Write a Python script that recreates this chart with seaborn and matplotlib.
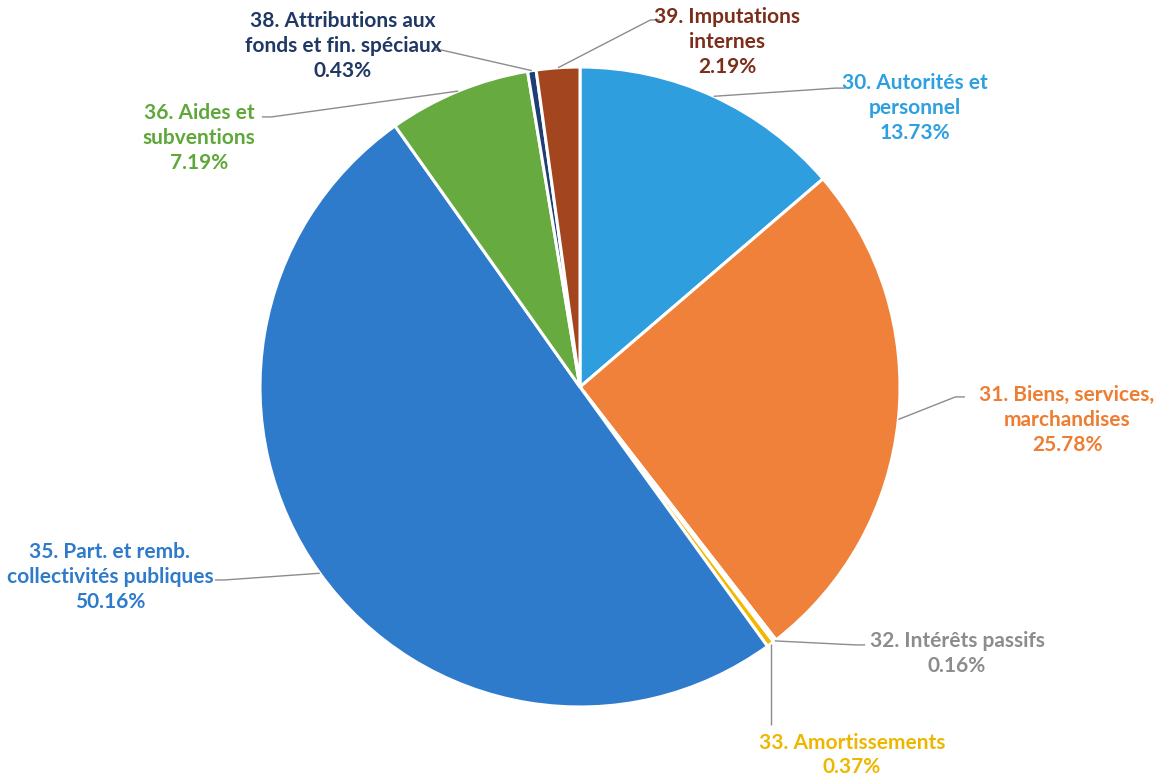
import matplotlib
matplotlib.use("Agg")
import matplotlib.pyplot as plt
import numpy as np
import seaborn as sns

# budget shares by nature (clockwise from 12 o'clock)
categories = [
    "30. Autorités et\npersonnel",
    "31. Biens, services,\nmarchandises",
    "32. Intérêts passifs",
    "33. Amortissements",
    "35. Part. et remb.\ncollectivités publiques",
    "36. Aides et\nsubventions",
    "38. Attributions aux\nfonds et fin. spéciaux",
    "39. Imputations\ninternes",
]
shares = [13.73, 25.78, 0.16, 0.37, 50.16, 7.19, 0.43, 2.19]
pct_labels = ["13.73%", "25.78%", "0.16%", "0.37%", "50.16%", "7.19%", "0.43%", "2.19%"]

wedge_colors = ["#2E9EDF", "#F0813A", "#A5A5A5", "#F5B800",
                "#2F7BCB", "#66AA40", "#1E3F73", "#A3461F"]
text_colors = ["#2EA0E0", "#EE7D31", "#8C8C8C", "#EDB700",
               "#2F7BCB", "#5EA83A", "#1F3864", "#7B2E1A"]

# label layout: text block centre and where the leader meets the text
label_pos = [(1.047, 0.872), (1.522, -0.103), (1.178, -0.834), (0.85, -1.15),
             (-1.469, -0.594), (-1.19, 0.778), (-0.741, 1.066), (0.459, 1.078)]
leader_end = [(0.828, 0.934), (1.203, -0.031), (0.891, -0.806), (0.591, -1.056),
              (-1.141, -0.603), (-0.994, 0.844), (-0.4625, 1.053), (0.25, 1.147)]


def main():
    sns.set_theme(style="white")
    plt.rcParams['font.family'] = ['Lato', 'DejaVu Sans']

    fig = plt.figure(figsize=(11.55, 7.8), dpi=100)
    ax = fig.add_axes([0, 0, 1, 1])

    wedges, _ = ax.pie(shares, colors=wedge_colors, startangle=90, counterclock=False,
                       wedgeprops=dict(edgecolor="white", linewidth=2.2))

    for i, w in enumerate(wedges):
        mid = np.deg2rad((w.theta1 + w.theta2) / 2)
        x0, y0 = np.cos(mid), np.sin(mid)
        ex, ey = leader_end[i]
        if i == 3:
            # vertical leader for the thin Amortissements slice
            xs, ys = [x0, x0], [y0, ey]
        else:
            step = 0.03 if ex > x0 else -0.03
            xs, ys = [x0, ex - step, ex], [y0, ey, ey]
        ax.plot(xs, ys, color="#8C8C8C", lw=1, solid_capstyle="butt")
        tx, ty = label_pos[i]
        ax.text(tx, ty, categories[i] + "\n" + pct_labels[i], ha="center", va="center",
                multialignment="center", fontsize=15, fontweight="bold",
                color=text_colors[i], linespacing=1.3)

    ax.set_xlim(-580 / 320, (1155 - 580) / 320)
    ax.set_ylim(-(780 - 387) / 320, 387 / 320)
    ax.axis("off")
    fig.savefig("out.png", dpi=100)


if __name__ == "__main__":
    main()
